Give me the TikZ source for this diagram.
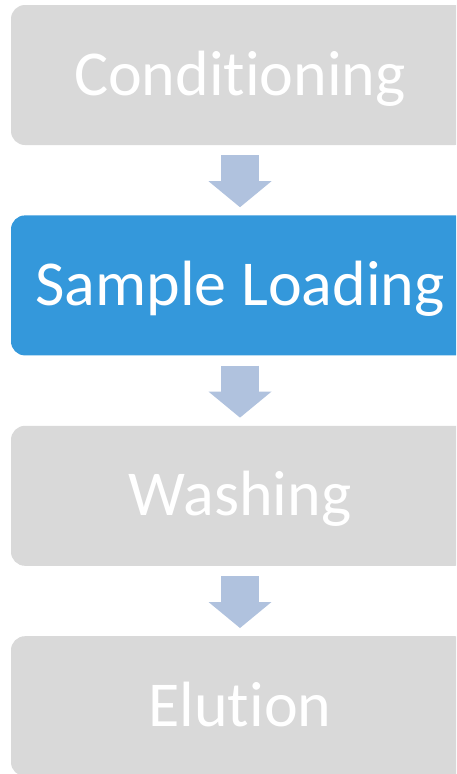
\documentclass[tikz,border=0pt]{standalone}
\usepackage{fontspec}
\setmainfont{Carlito}[RawFeature={-liga;-clig;-calt;-dlig}]
\usetikzlibrary{positioning,arrows.meta}

\definecolor{stepgray}{HTML}{D9D9D9}
\definecolor{stepblue}{HTML}{3498DB}
\definecolor{arrowblue}{HTML}{B0C2DE}

\tikzstyle{stepbox} = [rectangle, rounded corners=14pt, minimum width=458pt, minimum height=140pt, text centered, text=white, font=\fontsize{64}{68}\selectfont, text height=52pt, text depth=12pt, inner sep=0pt]
\tikzstyle{blockarrow} = [draw=arrowblue, line width=38pt, -{Triangle[width=63pt, length=26pt, line width=0pt, fill=arrowblue]}, shorten <=10pt, shorten >=8pt]

\begin{document}
\begin{tikzpicture}
  \clip (0,0) rectangle (456pt,-774pt);
  \node (cond) [stepbox, fill=stepgray] at (240pt,-75pt) {Conditioning};
  \node (load) [stepbox, fill=stepblue, below=70pt of cond] {Sample Loading};
  \node (wash) [stepbox, fill=stepgray, below=70pt of load] {Washing};
  \node (elut) [stepbox, fill=stepgray, below=70pt of wash] {Elution};

  \draw [blockarrow] (cond) -- (load);
  \draw [blockarrow] (load) -- (wash);
  \draw [blockarrow] (wash) -- (elut);
\end{tikzpicture}
\end{document}
